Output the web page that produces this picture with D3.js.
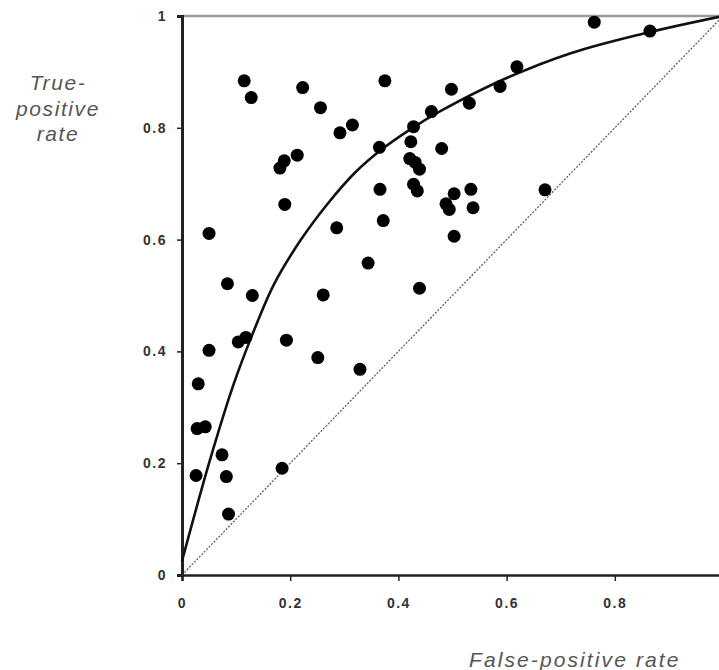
<!DOCTYPE html>
<html lang="en">
<head>
    <meta charset="UTF-8">
    <title>ROC</title>
    <script src="https://cdn.jsdelivr.net/npm/d3@7"></script>
    <style>
        body { margin: 0; background: #fff; }
        svg { display: block; }
    </style>
</head>
<body>
    <script>
        // studies: false-positive rate, true-positive rate
        let fpr = [0.762, 0.865, 0.619, 0.588, 0.498, 0.531, 0.461, 0.428, 0.423, 0.480,
            0.365, 0.375, 0.115, 0.128, 0.223, 0.256, 0.315, 0.292, 0.181, 0.189,
            0.213, 0.421, 0.431, 0.439, 0.428, 0.435, 0.366, 0.190, 0.372, 0.050,
            0.286, 0.503, 0.488, 0.494, 0.534, 0.538, 0.503, 0.671, 0.344, 0.084,
            0.130, 0.261, 0.439, 0.050, 0.193, 0.104, 0.118, 0.251, 0.329, 0.030,
            0.028, 0.043, 0.074, 0.026, 0.082, 0.185, 0.086];
        let tpr = [0.989, 0.973, 0.909, 0.874, 0.869, 0.844, 0.829, 0.802, 0.775, 0.763,
            0.765, 0.884, 0.884, 0.854, 0.872, 0.836, 0.805, 0.791, 0.728, 0.741,
            0.751, 0.745, 0.738, 0.726, 0.699, 0.687, 0.690, 0.663, 0.634, 0.611,
            0.621, 0.682, 0.664, 0.654, 0.690, 0.657, 0.606, 0.689, 0.558, 0.521,
            0.500, 0.501, 0.513, 0.402, 0.420, 0.417, 0.425, 0.389, 0.368, 0.342,
            0.262, 0.265, 0.215, 0.178, 0.176, 0.191, 0.109];

        // summary ROC curve
        let curveX = [0, 0.05, 0.095, 0.13, 0.17, 0.22, 0.27, 0.32, 0.37, 0.42, 0.48, 0.6, 0.72, 0.85, 1];
        let curveY = [0.025, 0.20, 0.34, 0.43, 0.52, 0.60, 0.665, 0.72, 0.762, 0.796, 0.831, 0.889, 0.934, 0.968, 1];

        let ticks = [0, 0.2, 0.4, 0.6, 0.8, 1];

        let width = 719,
            height = 670;

        let x = d3.scaleLinear().domain([0, 1]).range([182, 723]);
        let y = d3.scaleLinear().domain([0, 1]).range([575, 16]);

        let svg = d3.select('body').append('svg').attr('width', width).attr('height', height);

        // top frame line
        svg.append('line')
            .attr('x1', x(0)).attr('x2', x(1))
            .attr('y1', y(1)).attr('y2', y(1))
            .attr('stroke', '#9a9a9a')
            .attr('stroke-width', 2.5);

        // chance line
        svg.append('line')
            .attr('x1', x(0)).attr('y1', y(0))
            .attr('x2', x(1)).attr('y2', y(1))
            .attr('stroke', '#555')
            .attr('stroke-width', 1.2)
            .attr('stroke-dasharray', '2,1.5');

        let fmt = d3.format('~g');

        let xAxis = svg.append('g')
            .attr('transform', `translate(0,${y(0)})`)
            .call(d3.axisBottom(x).tickValues(ticks).tickFormat(fmt).tickSize(6).tickPadding(17));
        let yAxis = svg.append('g')
            .attr('transform', `translate(${x(0)},0)`)
            .call(d3.axisLeft(y).tickValues(ticks).tickFormat(fmt).tickSize(5).tickPadding(10));

        xAxis.select('.domain').attr('stroke', '#222').attr('stroke-width', 2.5);
        yAxis.select('.domain').attr('stroke', '#222').attr('stroke-width', 3);
        svg.selectAll('.tick line').attr('stroke', '#222').attr('stroke-width', 1.5);
        svg.selectAll('.tick text')
            .attr('fill', '#333')
            .style('font', 'bold 14px "Liberation Sans", Arial, sans-serif')
            .style('letter-spacing', '1.5px');

        // summary curve
        let line = d3.line()
            .x(i => x(curveX[i]))
            .y(i => y(curveY[i]))
            .curve(d3.curveCatmullRom.alpha(0.5));
        svg.append('path')
            .attr('d', line(d3.range(curveX.length)))
            .attr('fill', 'none')
            .attr('stroke', '#111')
            .attr('stroke-width', 2.6);

        // study points
        svg.append('g').selectAll('circle')
            .data(d3.range(fpr.length))
            .enter().append('circle')
            .attr('cx', i => x(fpr[i]))
            .attr('cy', i => y(tpr[i]))
            .attr('r', 6.5)
            .attr('fill', '#000');

        // axis titles
        let title = svg.append('text')
            .attr('fill', '#555')
            .attr('text-anchor', 'middle')
            .style('font', 'italic 21px "Liberation Sans", Arial, sans-serif')
            .style('letter-spacing', '1.6px');
        ['True-', 'positive', 'rate'].forEach((t, i) => {
            title.append('tspan').attr('x', 58).attr('y', 90 + i * 25.5).text(t);
        });

        svg.append('text')
            .attr('x', 469)
            .attr('y', 667)
            .attr('fill', '#555')
            .style('font', 'italic 21px "Liberation Sans", Arial, sans-serif')
            .style('letter-spacing', '2.1px')
            .text('False-positive rate');
    </script>
</body>
</html>
